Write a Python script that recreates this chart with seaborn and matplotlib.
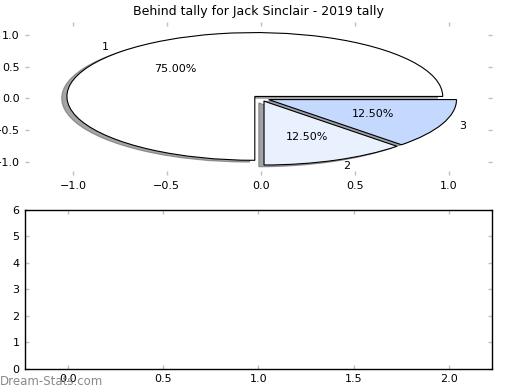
import matplotlib
matplotlib.use("Agg")
import matplotlib.pyplot as plt
import seaborn as sns

title = "Behind tally for Jack Sinclair - 2019 tally"
labels = ["1", "2", "3"]
shares = [75.0, 12.5, 12.5]
colors = ["#ffffff", "#eaf1fe", "#c5d9ff"]
explode = [0.045, 0.045, 0.045]

sns.set_style("white")
plt.rcParams['font.family'] = ['DejaVu Sans']
plt.rcParams['text.color'] = 'black'
plt.rcParams['xtick.labelcolor'] = 'black'
plt.rcParams['ytick.labelcolor'] = 'black'

fig = plt.figure(figsize=(5.2, 3.9), dpi=100)
ax1 = fig.add_axes([0.048, 0.551, 0.898, 0.393])
ax2 = fig.add_axes([0.048, 0.054, 0.898, 0.408])

wedges, texts, autotexts = ax1.pie(
    shares, labels=labels, colors=colors, explode=explode,
    autopct="%1.2f%%", shadow=True, startangle=0, frame=True,
    wedgeprops={"edgecolor": "black", "linewidth": 0.8},
    textprops={"fontsize": 8, "color": "black"},
)
ax1.set_aspect("auto")
ax1.set_xlim(-1.255, 1.23)
ax1.set_ylim(-1.2, 1.2)
ax1.set_xticks([-1.0, -0.5, 0.0, 0.5, 1.0])
ax1.set_yticks([-1.0, -0.5, 0.0, 0.5, 1.0])
ax1.set_title(title, fontsize=9, pad=5, color="black")
sns.despine(ax=ax1, left=True, bottom=True)

ax2.set_xlim(-0.225, 2.225)
ax2.set_ylim(0, 6)
ax2.set_xticks([0.0, 0.5, 1.0, 1.5, 2.0])
ax2.set_xticklabels(["0.0", "0.5", "1.0", "1.5", "2.0"])
ax2.set_yticks(range(7))
for s in ax2.spines.values():
    s.set_color("black")
    s.set_linewidth(1.0)

for ax in (ax1, ax2):
    ax.tick_params(direction="in", length=3, color="#c0c0c0", width=1,
                   labelsize=8, labelcolor="black", top=True, right=True,
                   bottom=True, left=True, pad=4)

fig.text(0.0, 0.012, "Dream-Stats.com", fontsize=8.5, color="#8a8a8a")

fig.savefig("out.png", dpi=100)
